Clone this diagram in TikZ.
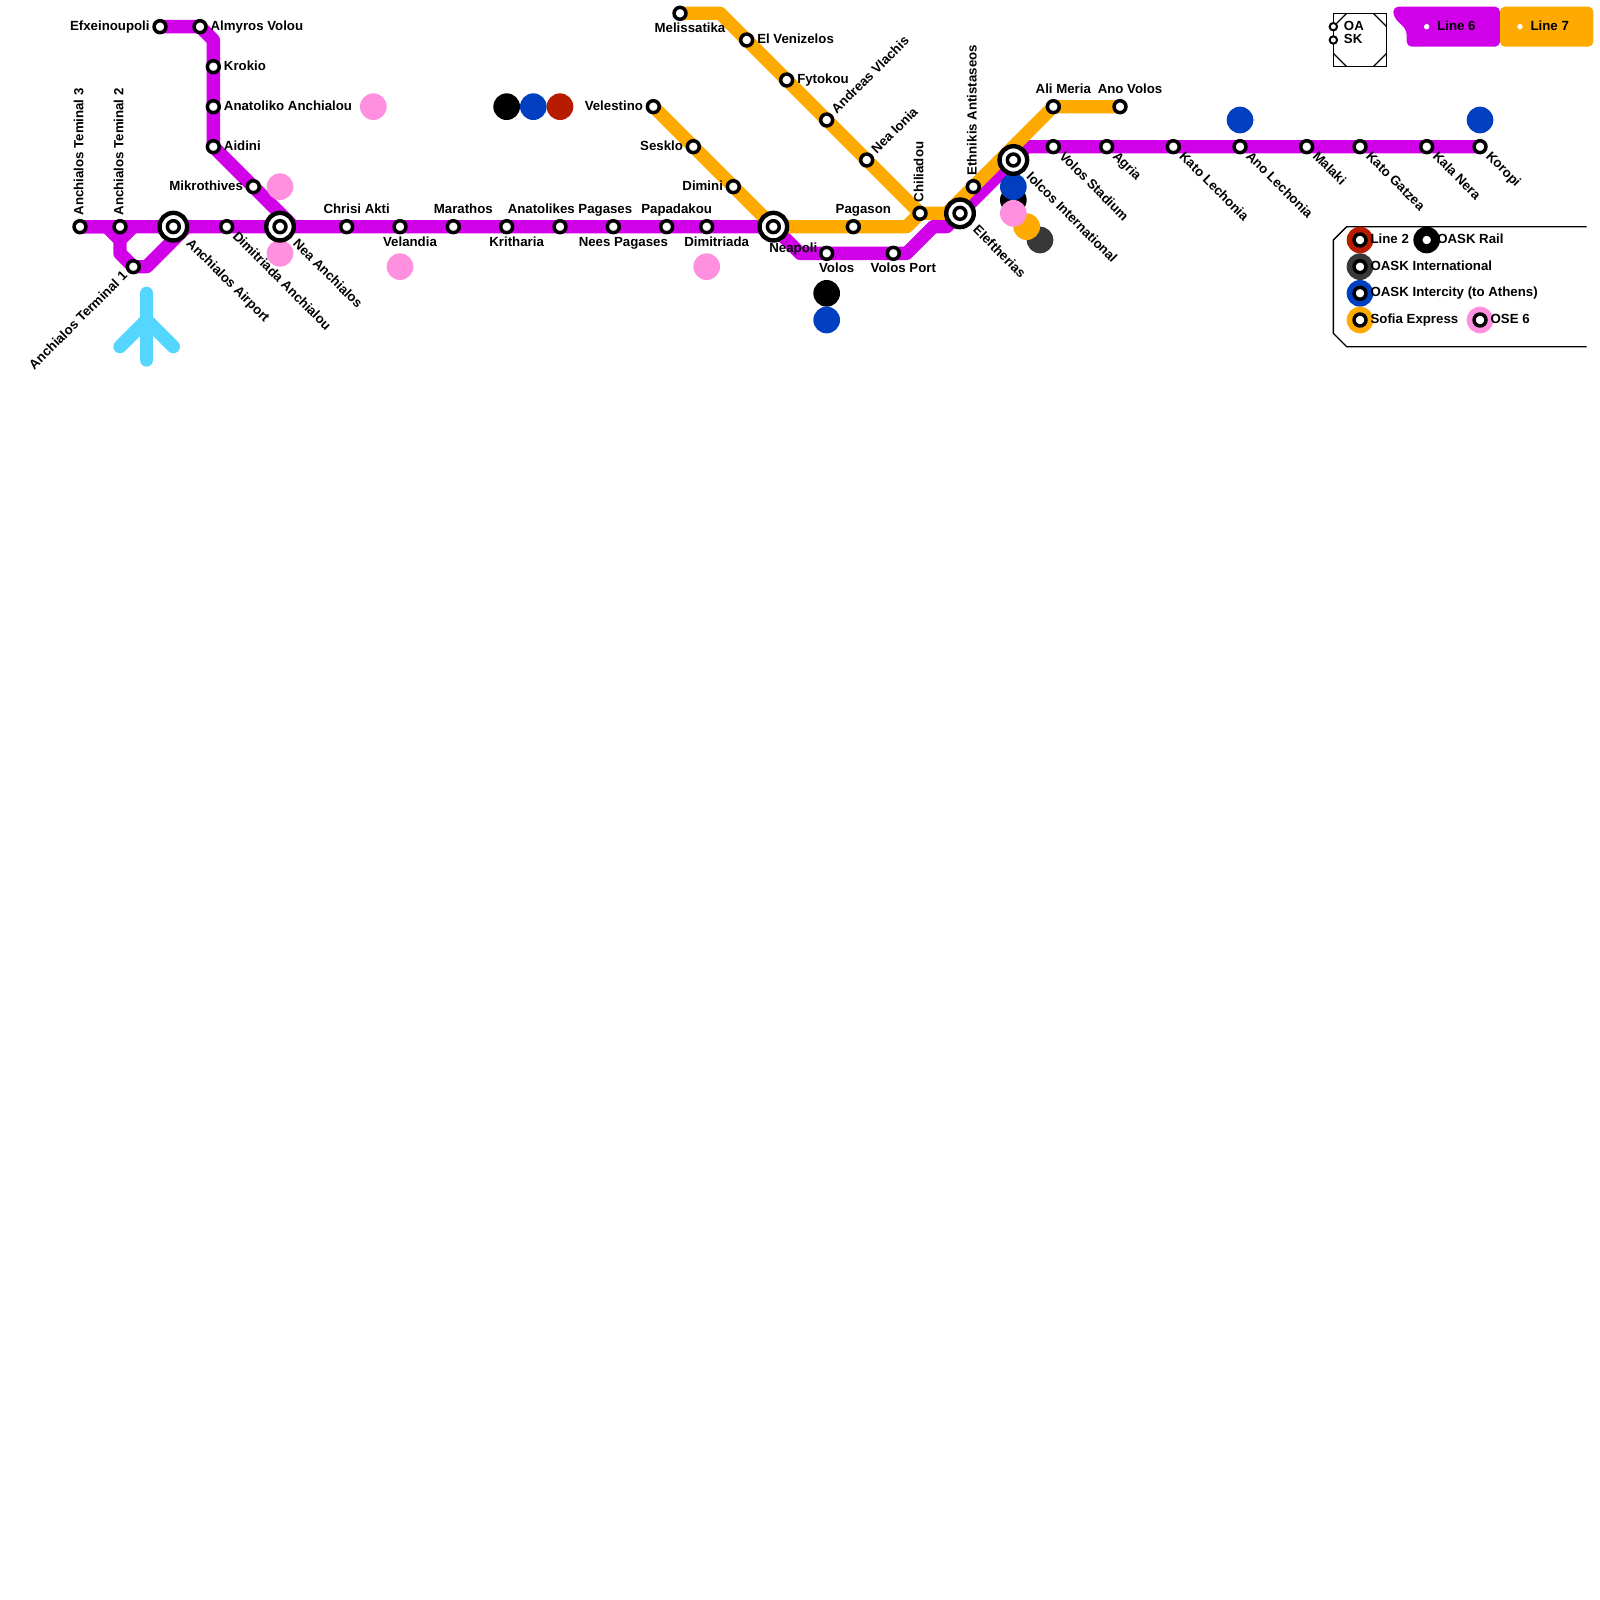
\documentclass[tikz,border=0pt]{standalone}
\usepackage{fontspec}
\setmainfont{Liberation Sans}
\usepackage{tikz}
\usetikzlibrary{positioning}
\definecolor{linesix}{HTML}{D000E8}
\definecolor{lineseven}{HTML}{FFAA00}
\definecolor{oskred}{HTML}{B81C00}
\definecolor{oaskdark}{HTML}{383838}
\definecolor{oaskblue}{HTML}{0040C0}
\definecolor{osepink}{HTML}{FF90E0}
\definecolor{planeblue}{HTML}{55D6FF}
\tikzset{
  stn/.style={circle, draw=black, fill=white, line width=3.5pt, minimum size=11.9pt, inner sep=0pt, outer sep=0pt},
  bigstn/.style={circle, draw=black, fill=white, line width=4.4pt, minimum size=27.6pt, inner sep=0pt, outer sep=0pt},
  tinystn/.style={circle, draw=black, fill=white, line width=2pt, minimum size=7.4pt, inner sep=0pt, outer sep=0pt},
  whitedot/.style={circle, fill=white, minimum size=5.4pt, inner sep=0pt, outer sep=0pt},
  dot/.style={circle, minimum size=26.67pt, inner sep=0pt, outer sep=0pt},
  lbl/.style={font=\bfseries\fontsize{13.25pt}{15pt}\selectfont, inner sep=0pt, text height=9.5pt, text depth=2.8pt, text=black},
  lblr/.style={lbl, anchor=west, xshift=10.4pt, yshift=0pt},
  lbll/.style={lbl, anchor=east, xshift=-10.2pt, yshift=0pt},
  lbla/.style={lbl, xshift=10pt, yshift=17pt},
  lblb/.style={lbl, xshift=10pt, yshift=-16pt},
  lblv/.style={lbl, rotate=90, anchor=west, xshift=11pt},
  lblne/.style={lbl, rotate=45, anchor=west, xshift=11pt},
  lblsw/.style={lbl, rotate=45, anchor=east, xshift=-10.67pt},
  lblse/.style={lbl, rotate=-45, anchor=west, xshift=11pt, yshift=-0.3pt},
  lblsebig/.style={lbl, rotate=-45, anchor=west, xshift=21pt, yshift=-0.3pt},
  route/.style={line width=13.33pt, line join=round, line cap=round},
  frameline/.style={draw=black, line width=1.33pt}
}
\begin{document}
\begin{tikzpicture}[x=13.333pt, y=-13.333pt]
  \useasboundingbox (0,0) rectangle (120,120);
  % routes
  \draw[route, linesix] (12,2) -- (15,2) -- (16,3) -- (16,11) -- (22,17);
  \draw[route, linesix] (6,17) -- (8,17) -- (9,18) -- (9,19) -- (10,20) -- (11,20) -- (14,17);
  \draw[route, linesix] (10,17) -- (9,18);
  \draw[route, linesix] (6,17) -- (58,17) -- (60,19) -- (68,19) -- (70,17) -- (71,17) -- (77,11) -- (111,11);
  \draw[route, lineseven] (51,1) -- (54,1) -- (69,16) -- (71,16) -- (79,8) -- (84,8);
  \draw[route, lineseven] (49,8) -- (58,17) -- (68,17) -- (69,16);
  \draw[route, planeblue] (11,22) -- (11,27);
  \draw[route, planeblue] (9,26) -- (11,24) -- (13,26);
  % interchange dots
  \node[dot, fill=osepink] (pinkanat) at (28,8) {};
  \node[dot, fill=osepink] (pinkmikro) at (21,14) {};
  \node[dot, fill=osepink] (pinknea) at (21,19) {};
  \node[dot, fill=osepink] (pinkvel) at (30,20) {};
  \node[dot, fill=osepink] (pinkdim) at (53,20) {};
  \node[dot, fill=black] (blackkrit) at (38,8) {};
  \node[dot, fill=oaskblue] (bluekrit) at (40,8) {};
  \node[dot, fill=oskred] (redkrit) at (42,8) {};
  \node[dot, fill=black] (blackvolos) at (62,22) {};
  \node[dot, fill=oaskblue] (bluevolos) at (62,24) {};
  \node[dot, fill=black] (blackiol) at (76,15) {};
  \node[dot, fill=oaskdark] (darkiol) at (78,18) {};
  \node[dot, fill=lineseven] (orangeiol) at (77,17) {};
  \node[dot, fill=oaskblue] (blueiol) at (76,14) {};
  \node[dot, fill=osepink] (pinkiol) at (76,16) {};
  \node[dot, fill=oaskblue] (blueano) at (93,9) {};
  \node[dot, fill=oaskblue] (bluekor) at (111,9) {};
  % stations
  \node[stn] (terma) at (6,17) {};
  \node[stn] (termb) at (9,17) {};
  \node[stn] (termc) at (10,20) {};
  \node[bigstn] (airportring) at (13,17) {};
  \node[stn] (airport) at (13,17) {};
  \node[stn] (dimanch) at (17,17) {};
  \node[bigstn] (nearing) at (21,17) {};
  \node[stn] (neaanch) at (21,17) {};
  \node[stn] (efx) at (12,2) {};
  \node[stn] (almyros) at (15,2) {};
  \node[stn] (krokio) at (16,5) {};
  \node[stn] (anatoliko) at (16,8) {};
  \node[stn] (aidini) at (16,11) {};
  \node[stn] (mikro) at (19,14) {};
  \node[stn] (chrisi) at (26,17) {};
  \node[stn] (velandia) at (30,17) {};
  \node[stn] (marathos) at (34,17) {};
  \node[stn] (kritharia) at (38,17) {};
  \node[stn] (anatolikes) at (42,17) {};
  \node[stn] (nees) at (46,17) {};
  \node[stn] (papadakou) at (50,17) {};
  \node[stn] (dimitriada) at (53,17) {};
  \node[bigstn] (neapring) at (58,17) {};
  \node[stn] (neapoli) at (58,17) {};
  \node[stn] (volos) at (62,19) {};
  \node[stn] (volosport) at (67,19) {};
  \node[stn] (velestino) at (49,8) {};
  \node[stn] (sesklo) at (52,11) {};
  \node[stn] (dimini) at (55,14) {};
  \node[stn] (melissatika) at (51,1) {};
  \node[stn] (venizelos) at (56,3) {};
  \node[stn] (fytokou) at (59,6) {};
  \node[stn] (vlachis) at (62,9) {};
  \node[stn] (neaionia) at (65,12) {};
  \node[stn] (chiliadou) at (69,16) {};
  \node[stn] (pagason) at (64,17) {};
  \node[bigstn] (elefring) at (72,16) {};
  \node[stn] (eleftherias) at (72,16) {};
  \node[stn] (ethnikis) at (73,14) {};
  \node[bigstn] (iolring) at (76,12) {};
  \node[stn] (iolcos) at (76,12) {};
  \node[stn] (alimeria) at (79,8) {};
  \node[stn] (anovolos) at (84,8) {};
  \node[stn] (stadium) at (79,11) {};
  \node[stn] (agria) at (83,11) {};
  \node[stn] (katolech) at (88,11) {};
  \node[stn] (anolech) at (93,11) {};
  \node[stn] (malaki) at (98,11) {};
  \node[stn] (gatzea) at (102,11) {};
  \node[stn] (kalanera) at (107,11) {};
  \node[stn] (koropi) at (111,11) {};
  % labels
  \node[lblv] at (terma) {Anchialos Teminal 3};
  \node[lblv] at (termb) {Anchialos Teminal 2};
  \node[lblsw] at (termc) {Anchialos Terminal 1};
  \node[lblsebig] at (airport) {Anchialos Airport};
  \node[lblse] at (dimanch) {Dimitriada Anchialou};
  \node[lblsebig] at (neaanch) {Nea Anchialos};
  \node[lbll] at (efx) {Efxeinoupoli};
  \node[lblr] at (almyros) {Almyros Volou};
  \node[lblr] at (krokio) {Krokio};
  \node[lblr] at (anatoliko) {Anatoliko Anchialou};
  \node[lblr] at (aidini) {Aidini};
  \node[lbll] at (mikro) {Mikrothives};
  \node[lbla] at (chrisi) {Chrisi Akti};
  \node[lblb] at (velandia) {Velandia};
  \node[lbla] at (marathos) {Marathos};
  \node[lblb] at (kritharia) {Kritharia};
  \node[lbla] at (anatolikes) {Anatolikes Pagases};
  \node[lblb] at (nees) {Nees Pagases};
  \node[lbla] at (papadakou) {Papadakou};
  \node[lblb] at (dimitriada) {Dimitriada};
  \node[lblb, xshift=10pt, yshift=-6pt] at (neapoli) {Neapoli};
  \node[lblb] at (volos) {Volos};
  \node[lblb] at (volosport) {Volos Port};
  \node[lbll] at (velestino) {Velestino};
  \node[lbll] at (sesklo) {Sesklo};
  \node[lbll] at (dimini) {Dimini};
  \node[lblb] at (melissatika) {Melissatika};
  \node[lblr] at (venizelos) {El Venizelos};
  \node[lblr] at (fytokou) {Fytokou};
  \node[lblne] at (vlachis) {Andreas Vlachis};
  \node[lblne] at (neaionia) {Nea Ionia};
  \node[lblv] at (chiliadou) {Chiliadou};
  \node[lbla] at (pagason) {Pagason};
  \node[lblsebig] at (eleftherias) {Eleftherias};
  \node[lblv] at (ethnikis) {Ethnikis Antistaseos};
  \node[lblsebig] at (iolcos) {Iolcos International};
  \node[lbla] at (alimeria) {Ali Meria};
  \node[lbla] at (anovolos) {Ano Volos};
  \node[lblse] at (stadium) {Volos Stadium};
  \node[lblse] at (agria) {Agria};
  \node[lblse] at (katolech) {Kato Lechonia};
  \node[lblse] at (anolech) {Ano Lechonia};
  \node[lblse] at (malaki) {Malaki};
  \node[lblse] at (gatzea) {Kato Gatzea};
  \node[lblse] at (kalanera) {Kala Nera};
  \node[lblse] at (koropi) {Koropi};
  % key at the top
  \draw[frameline] (100,1) rectangle (104,5);
  \draw[frameline] (100,2) -- (101,1);
  \draw[frameline] (103,1) -- (104,2);
  \draw[frameline] (100,4) -- (101,5);
  \draw[frameline] (103,5) -- (104,4);
  \node[tinystn] (oakey) at (100,2) {};
  \node[tinystn] (skkey) at (100,3) {};
  \node[lblr] at (oakey) {OA};
  \node[lblr] at (skkey) {SK};
  \fill[linesix, rounded corners=5pt] (104.5,0.5) -- (112.5,0.5) -- (112.5,3.5) -- (105.5,3.5) -- (105.5,2.25) -- (104.5,1.25) -- cycle;
  \fill[lineseven, rounded corners=5pt] (112.5,0.5) rectangle (119.5,3.5);
  \node[whitedot] (sixkey) at (107,2) {};
  \node[whitedot] (sevenkey) at (114,2) {};
  \node[lblr] at (sixkey) {Line 6};
  \node[lblr] at (sevenkey) {Line 7};
  % key at the right
  \draw[frameline] (119,17) -- (101,17) -- (100,18) -- (100,25) -- (101,26) -- (119,26);
  \node[dot, fill=oskred] (lineiidot) at (102,18) {};
  \node[dot, fill=black] (raildot) at (107,18) {};
  \node[dot, fill=oaskdark] (intdot) at (102,20) {};
  \node[dot, fill=oaskblue] (citydot) at (102,22) {};
  \node[dot, fill=lineseven] (sofiadot) at (102,24) {};
  \node[dot, fill=osepink] (osedot) at (111,24) {};
  \node[stn] (lineiikey) at (102,18) {};
  \node[stn] (railkey) at (107,18) {};
  \node[stn] (intkey) at (102,20) {};
  \node[stn] (citykey) at (102,22) {};
  \node[stn] (sofiakey) at (102,24) {};
  \node[stn] (osekey) at (111,24) {};
  \node[lblr] at (lineiikey) {Line 2};
  \node[lblr] at (railkey) {OASK Rail};
  \node[lblr] at (intkey) {OASK International};
  \node[lblr] at (citykey) {OASK Intercity (to Athens)};
  \node[lblr] at (sofiakey) {Sofia Express};
  \node[lblr] at (osekey) {OSE 6};
\end{tikzpicture}
\end{document}
